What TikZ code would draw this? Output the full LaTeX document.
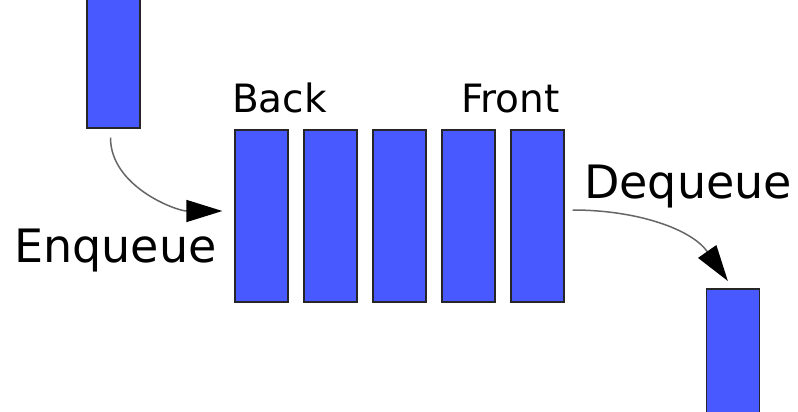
\documentclass[tikz,border=0pt]{standalone}
\usepackage{fontspec}
\setmainfont{DejaVu Sans}
\usepackage{tikz}
\usetikzlibrary{arrows.meta, positioning}
\definecolor{itemblue}{RGB}{71,89,255}
\tikzset{
    item/.style={rectangle, draw=black!85, line width=1.3pt, fill=itemblue, minimum width=53pt, minimum height=172pt, inner sep=0pt},
    bigtext/.style={anchor=base west, inner sep=0pt, font=\fontsize{46}{55}\selectfont},
    endtext/.style={anchor=base west, inner sep=0pt, font=\fontsize{39}{47}\selectfont},
    arrow/.style={-{Triangle[length=36pt, width=22pt, color=black]}, draw=black!60, line width=1.5pt}
}

\begin{document}
\begin{tikzpicture}[x=1pt, y=-1pt]

    \clip (0,0) rectangle (798,412);
    \fill[white] (0,0) rectangle (798,412);

    % Incoming item
    \node[item] (inbox) at (113.5,42) {};

    % Queue
    \node[item] (b1) at (261.5,216) {};
    \node[item] (b2) at (330.5,216) {};
    \node[item] (b3) at (399.5,216) {};
    \node[item] (b4) at (468.5,216) {};
    \node[item] (b5) at (537.5,216) {};

    % Outgoing item
    \node[item] (outbox) at (733,375) {};

    % Labels
    \node[endtext] (back) at (232,113) {Back};
    \node[endtext] (front) at (461,113) {Front};
    \node[bigtext] (enq) at (14,262) {Enqueue};
    \node[bigtext] (deq) at (584,198) {Dequeue};

    % Arrows
    \draw[arrow, shorten <=9pt, shorten >=12pt] ([xshift=-3pt]inbox.south) to[out=-90, in=180] ([yshift=5pt]b1.west);
    \draw[arrow, shorten <=8pt, shorten >=9pt] ([yshift=6pt]b5.east) to[out=0, in=125] (outbox.north);

\end{tikzpicture}
\end{document}
